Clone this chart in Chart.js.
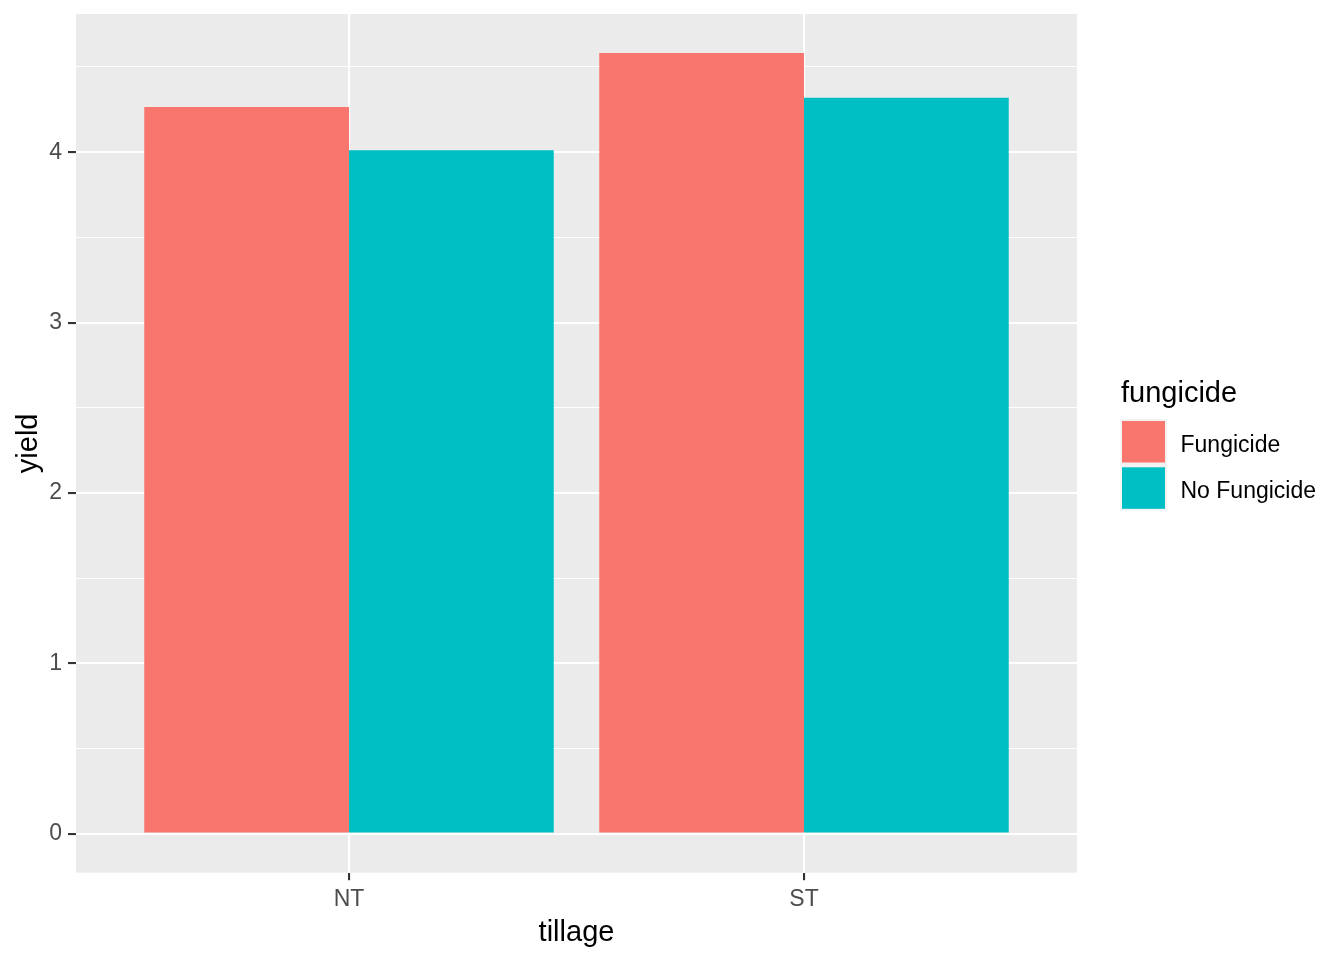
<!DOCTYPE html>
<html>
<head>
<meta charset="utf-8">
<title>yield by tillage</title>
<script src="https://cdn.jsdelivr.net/npm/chart.js@4/dist/chart.umd.min.js"></script>
<style>
  html, body { margin: 0; padding: 0; background: #ffffff; }
  canvas { display: block; }
</style>
</head>
<body>
<canvas id="chart" width="1344" height="960"></canvas>
<script>
// Data
const categories = ["NT", "ST"];
const seriesNames = ["Fungicide", "No Fungicide"];
const fungicideYield = [4.265, 4.582];
const noFungicideYield = [4.012, 4.319];
const yMajorTicks = [0, 1, 2, 3, 4];
const yMinorTicks = [0.5, 1.5, 2.5, 3.5, 4.5];

// Look
const FONT = "'Liberation Sans', Arial, 'DejaVu Sans', sans-serif";
const COLORS = ["#F8766D", "#00BFC4"];
const PANEL_BG = "#EBEBEB";
const TICK_SIZE = 23;
const TITLE_SIZE = 29;

// ggplot style 5% expansion on the continuous axis
const yTop = Math.max(...fungicideYield, ...noFungicideYield);
const yPad = yTop * 0.05;

const toPoints = (values) => values.map((v, i) => ({ x: i + 1, y: v }));
const isMajorY = (v) => yMajorTicks.includes(v);

// Grey panel behind the grid
const panelBackground = {
    id: "panelBackground",
    beforeDraw(chart) {
        const { ctx, chartArea: a } = chart;
        ctx.save();
        ctx.fillStyle = PANEL_BG;
        ctx.fillRect(a.left, a.top, a.right - a.left, a.bottom - a.top);
        ctx.restore();
    }
};

// Legend drawn like ggplot's guide on the right
const ggLegend = {
    id: "ggLegend",
    afterDraw(chart) {
        const ctx = chart.ctx;
        ctx.save();
        ctx.textAlign = "left";
        ctx.textBaseline = "alphabetic";
        ctx.fillStyle = "#000000";
        ctx.font = TITLE_SIZE + "px " + FONT;
        ctx.fillText("fungicide", 1121, 402);

        ctx.fillStyle = "#F2F2F2";
        ctx.fillRect(1120.5, 419, 46.5, 91.5);

        const keyTops = [421, 467.3];
        chart.data.datasets.forEach((ds, i) => {
            ctx.fillStyle = ds.backgroundColor;
            ctx.fillRect(1122, keyTops[i], 43, 41.5);
            ctx.fillStyle = "#000000";
            ctx.font = TICK_SIZE + "px " + FONT;
            ctx.fillText(ds.label, 1180.5, keyTops[i] + 31);
        });
        ctx.restore();
    }
};

new Chart(document.getElementById("chart"), {
    type: "bar",
    data: {
        datasets: [
            { label: seriesNames[0], data: toPoints(fungicideYield), backgroundColor: COLORS[0] },
            { label: seriesNames[1], data: toPoints(noFungicideYield), backgroundColor: COLORS[1] }
        ]
    },
    options: {
        responsive: false,
        animation: false,
        events: [],
        layout: { padding: { left: 0, top: 14, right: 267, bottom: 0 } },
        datasets: {
            bar: { categoryPercentage: 0.9, barPercentage: 1.0, borderWidth: 0 }
        },
        plugins: {
            legend: { display: false },
            tooltip: { enabled: false }
        },
        scales: {
            x: {
                type: "linear",
                min: 0.4,
                max: 2.6,
                offset: false,
                afterBuildTicks(scale) {
                    scale.ticks = categories.map((c, i) => ({ value: i + 1 }));
                },
                afterFit(scale) {
                    scale.height = 87.3;
                    scale.paddingLeft = 0;
                    scale.paddingRight = 0;
                },
                ticks: {
                    callback: (v) => categories[v - 1] || "",
                    color: "#4D4D4D",
                    font: { family: FONT, size: TICK_SIZE },
                    padding: 6,
                    maxRotation: 0,
                    autoSkip: false
                },
                grid: {
                    offset: false,
                    color: "#FFFFFF",
                    lineWidth: 2.1,
                    drawTicks: true,
                    tickLength: 7.5,
                    tickWidth: 2.1,
                    tickColor: "#333333"
                },
                border: { display: false },
                title: {
                    display: true,
                    text: "tillage",
                    color: "#000000",
                    font: { family: FONT, size: TITLE_SIZE },
                    padding: { top: 0, bottom: 9.5 }
                }
            },
            y: {
                type: "linear",
                min: -yPad,
                max: yTop + yPad,
                afterBuildTicks(scale) {
                    scale.ticks = [...yMajorTicks, ...yMinorTicks]
                        .sort((a, b) => a - b)
                        .map(v => ({ value: v }));
                },
                afterFit(scale) {
                    scale.width = 76;
                    scale.paddingTop = 0;
                    scale.paddingBottom = 0;
                },
                ticks: {
                    callback: (v) => isMajorY(v) ? String(v) : "",
                    color: "#4D4D4D",
                    font: { family: FONT, size: TICK_SIZE },
                    padding: 6,
                    autoSkip: false
                },
                grid: {
                    color: "#FFFFFF",
                    lineWidth: (ctx) => isMajorY(ctx.tick.value) ? 2.1 : 1.05,
                    drawTicks: true,
                    tickLength: 8,
                    tickWidth: 2.1,
                    tickColor: (ctx) => isMajorY(ctx.tick.value) ? "#333333" : "rgba(0,0,0,0)"
                },
                border: { display: false },
                title: {
                    display: true,
                    text: "yield",
                    color: "#000000",
                    font: { family: FONT, size: TITLE_SIZE },
                    padding: { top: 12, bottom: 0 }
                }
            }
        }
    },
    plugins: [panelBackground, ggLegend]
});
</script>
</body>
</html>
